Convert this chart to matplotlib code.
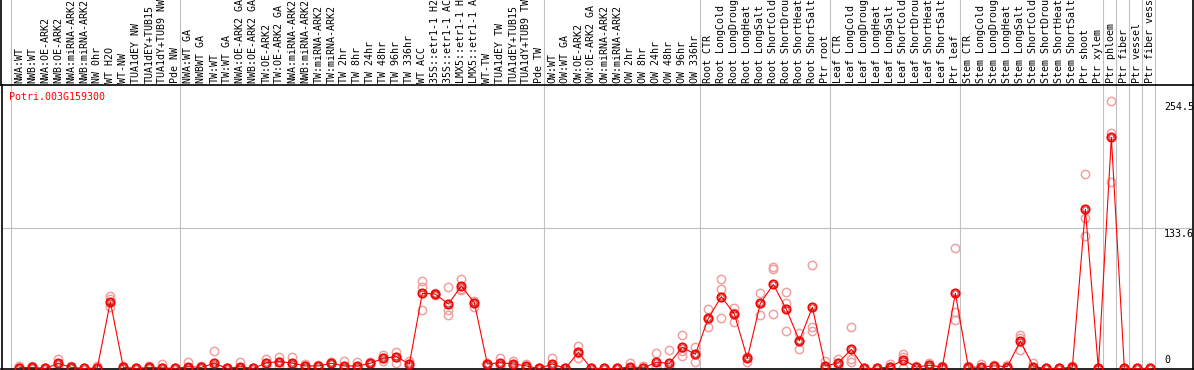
import numpy as np
import matplotlib
matplotlib.use('Agg')
import matplotlib.pyplot as plt

# Nomes das amostras (ja cortados em 14 caracteres como no original)
labels_nw = ['NWA:WT', 'NWB:WT', 'NWA:OE-ARK2', 'NWB:OE-ARK2', 'NWA:miRNA-ARK2', 'NWB:miRNA-ARK2',
             'NW 0hr', 'WT H2O', 'WT-NW', 'TUA1dEY NW', 'TUA1dEY+TUB15', 'TUA1dY+TUB9 NW', 'Pde NW']
labels_tw = ['NWA:WT GA', 'NWBWT GA', 'TW:WT', 'TW:WT GA', 'NWA:OE-ARK2 GA', 'NWB:OE-ARK2 GA',
             'TW:OE-ARK2', 'TW:OE-ARK2 GA', 'NWA:miRNA-ARK2', 'NWB:miRNA-ARK2', 'TW:miRNA-ARK2',
             'TW:miRNA-ARK2', 'TW 2hr', 'TW 8hr', 'TW 24hr', 'TW 48hr', 'TW 96hr', 'TW 336hr',
             'WT ACC', '35S::etr1-1 H2', '35S::etr1-1 AC', 'LMX5::etr1-1 H', 'LMX5::etr1-1 A',
             'WT-TW', 'TUA1dEY TW', 'TUA1dEY+TUB15', 'TUA1dY+TUB9 TW', 'Pde TW']
labels_ow = ['OW:WT', 'OW:WT GA', 'OW:OE-ARK2', 'OW:OE-ARK2 GA', 'OW:miRNA-ARK2', 'OW:miRNA-ARK2',
             'OW 2hr', 'OW 8hr', 'OW 24hr', 'OW 48hr', 'OW 96hr', 'OW 336hr']
labels_root = ['Root CTR', 'Root LongCold', 'Root LongDroug', 'Root LongHeat', 'Root LongSalt',
               'Root ShortCold', 'Root ShortDrou', 'Root ShortHeat', 'Root ShortSalt', 'Ptr root']
labels_leaf = ['Leaf CTR', 'Leaf LongCold', 'Leaf LongDroug', 'Leaf LongHeat', 'Leaf LongSalt',
               'Leaf ShortCold', 'Leaf ShortDrou', 'Leaf ShortHeat', 'Leaf ShortSalt', 'Ptr leaf']
labels_stem = ['Stem CTR', 'Stem LongCold', 'Stem LongDroug', 'Stem LongHeat', 'Stem LongSalt',
               'Stem ShortCold', 'Stem ShortDrou', 'Stem ShortHeat', 'Stem ShortSalt', 'Ptr shoot',
               'Ptr xylem']
labels_ptr = ['Ptr phloem', 'Ptr fiber', 'Ptr vessel', 'Ptr fiber vess']

groups = [labels_nw, labels_tw, labels_ow, labels_root, labels_leaf, labels_stem,
          ['Ptr phloem'], ['Ptr fiber'], ['Ptr vessel'], ['Ptr fiber vess']]
labels = labels_nw + labels_tw + labels_ow + labels_root + labels_leaf + labels_stem + labels_ptr

# Media de expressao por amostra
means = [0.8, 1.0, 0, 4.9, 1.0, 0, 0.5, 63.5, 1.0, 0, 1.0, 0.5, 0,
         1.7, 1.0, 5.0, 0, 1.7, 0, 5.5, 6.5, 5.2, 2.4, 2.4, 4.9, 2.4, 2.4, 4.9, 9.7, 11.2, 4.3,
         71.5, 70.8, 61.3, 78.4, 62.6, 4.3, 5.5, 4.3, 2.4, 0,
         4.3, 0, 15.4, 0, 0, 0, 1.6, 0.6, 5.9, 4.9, 20.1, 13.5,
         47.7, 68.3, 51.8, 9.7, 62.0, 80.0, 56.3, 26.4, 58.2, 2.2,
         5.5, 18.2, 0, 0, 1.7, 8.1, 1.3, 3.1, 1.3, 71.5,
         1.3, 1.3, 2.5, 1.7, 26.1, 1.7, 0, 0, 1.3, 151.4, 0,
         219.8, 0, 0, 0]

# Replicas (pontos claros)
reps = [[2, 0.3, 0], [2, 1, 0], [0, 0, 0], [9, 4, 1.5], [2.5, 0.5, 0], [0, 0, 0], [2.5, 0, 0],
        [69, 66.5, 58], [2.5, 0.5, 0], [0, 0, 0], [2, 1, 0], [4, 0, 0], [0, 0, 0],
        [6.5, 0, 0], [2, 1, 0], [16.5, 2, 0], [0, 0, 0], [5.7, 0, 0], [0, 0, 0], [9, 5, 2],
        [11, 6, 2.5], [11, 4, 1], [4.5, 2, 0.5], [3, 2.4, 2], [6, 5, 4], [7.4, 0, 0], [6.5, 1, 0],
        [6, 5, 4], [12.5, 10, 7], [15.7, 11, 5.5], [7.5, 4, 1], [82.9, 77.8, 55.6],
        [72, 71, 69.5], [77.2, 55.6, 50.5], [85.1, 76, 74.6], [64.5, 62.5, 58.8], [5, 4, 3.5],
        [10.3, 3, 2.5], [7.5, 3.5, 2], [4.5, 2, 0.5], [0, 0, 0],
        [9.7, 2, 1], [0, 0, 0], [21.4, 15, 9.7], [0, 0, 0], [0, 0, 0], [0, 0, 0], [4.8, 0, 0],
        [2.5, 0, 0], [14.4, 2.5, 0.5], [17.6, 1, 0], [31.5, 17, 11.9], [20.8, 13.5, 5.9],
        [56.9, 47, 39.2], [85.1, 75.3, 47.7], [57.7, 53, 43.9], [11.2, 11, 5.9], [71.5, 62, 50.6],
        [96.8, 94.6, 51.5], [72.5, 62, 35.7], [33.5, 27, 18.3], [98.4, 39.7, 36], [6.9, 0, 0],
        [9.3, 5.5, 1.5], [39.2, 9.3, 6], [0, 0, 0], [0, 0, 0], [4.3, 1, 0], [13.8, 10.5, 0],
        [2.5, 1, 0.5], [5.5, 3, 1], [2, 1.5, 0.5], [114.3, 53.4, 46.1],
        [2, 1.5, 0.5], [4, 0, 0], [3, 2.5, 2], [3.5, 1.5, 0], [31.8, 29, 17.6], [5.5, 0, 0],
        [0, 0, 0], [0, 0, 0], [2.5, 1, 0.5], [184.6, 142.8, 126], [0, 0, 0],
        [254.5, 224.2, 177.6], [0, 0, 0], [0, 0, 0], [0, 0, 0]]

gene = 'Potri.003G159300'
yticks = [254.5, 133.6, 0]

W, H = 1194, 370
fig = plt.figure(figsize=(W / 100, H / 100), dpi=100)
# area do grafico: x 1.5..1193 px, y 85..369 px (a partir do topo)
ax = fig.add_axes([1.5 / W, (H - 369) / H, (1193 - 1.5) / W, (369 - 85) / H])
x = np.arange(len(labels))
ax.set_xlim(-1.37, 90.28)
ax.set_ylim(-0.5, 269.6)
ax.set_xticks([])
ax.set_yticks([])
for s in ax.spines.values():
    s.set_color('black')
    s.set_linewidth(1.2)

mono = 'DejaVu Sans Mono'
fs = 7.2
top_ext = 369 / 284  # ate o topo da figura em fracao do eixo

# linhas verticais cinzas entre os grupos
start = 0
for g in groups + [[]]:
    ax.axvline(start - 0.615, ymin=0, ymax=top_ext, color='#c0c0c0', lw=0.8, clip_on=False, zorder=0)
    start += len(g)
# bordas pretas na area dos rotulos
for xe in ax.get_xlim():
    ax.axvline(xe, ymin=1, ymax=top_ext, color='black', lw=1.2, clip_on=False)

# linha de grade em 133.6
ax.axhline(yticks[1], color='#c0c0c0', lw=0.8, zorder=0)

# replicas
for i, r in enumerate(reps):
    ax.plot([i] * len(r), r, 'o', ms=6, mfc='none', mec='#f0a0a0', mew=1.1, zorder=2)

# media
ax.plot(x, means, '-', color='red', lw=0.8, zorder=3)
ax.plot(x, means, 'o', ms=6, mfc='none', mec='red', mew=1.3, zorder=4)
ax.plot(x, means, 'o', ms=3.8, mfc='none', mec='#900000', mew=0.5, zorder=5)

# rotulos das amostras
for i, lab in enumerate(labels):
    ax.text(i, 1.007, lab, rotation=90, ha='center', va='bottom', fontsize=fs,
            family=mono, transform=ax.get_xaxis_transform(), clip_on=False)

# valores do eixo y (dentro do grafico, a direita)
xt = (1164 - 19.3) / 13
ax.text(xt, yticks[0] - 1, '254.5', ha='left', va='top', fontsize=fs, family=mono)
ax.text(xt, yticks[1] - 1, '133.6', ha='left', va='top', fontsize=fs, family=mono)
ax.text(xt, yticks[2] + 3, '0', ha='left', va='bottom', fontsize=fs, family=mono)

# nome do gene
ax.text((9 - 19.3) / 13, 0.958, gene, color='red', ha='left', va='center', fontsize=fs,
        family=mono, transform=ax.get_xaxis_transform())

fig.savefig('out.png', dpi=100)
